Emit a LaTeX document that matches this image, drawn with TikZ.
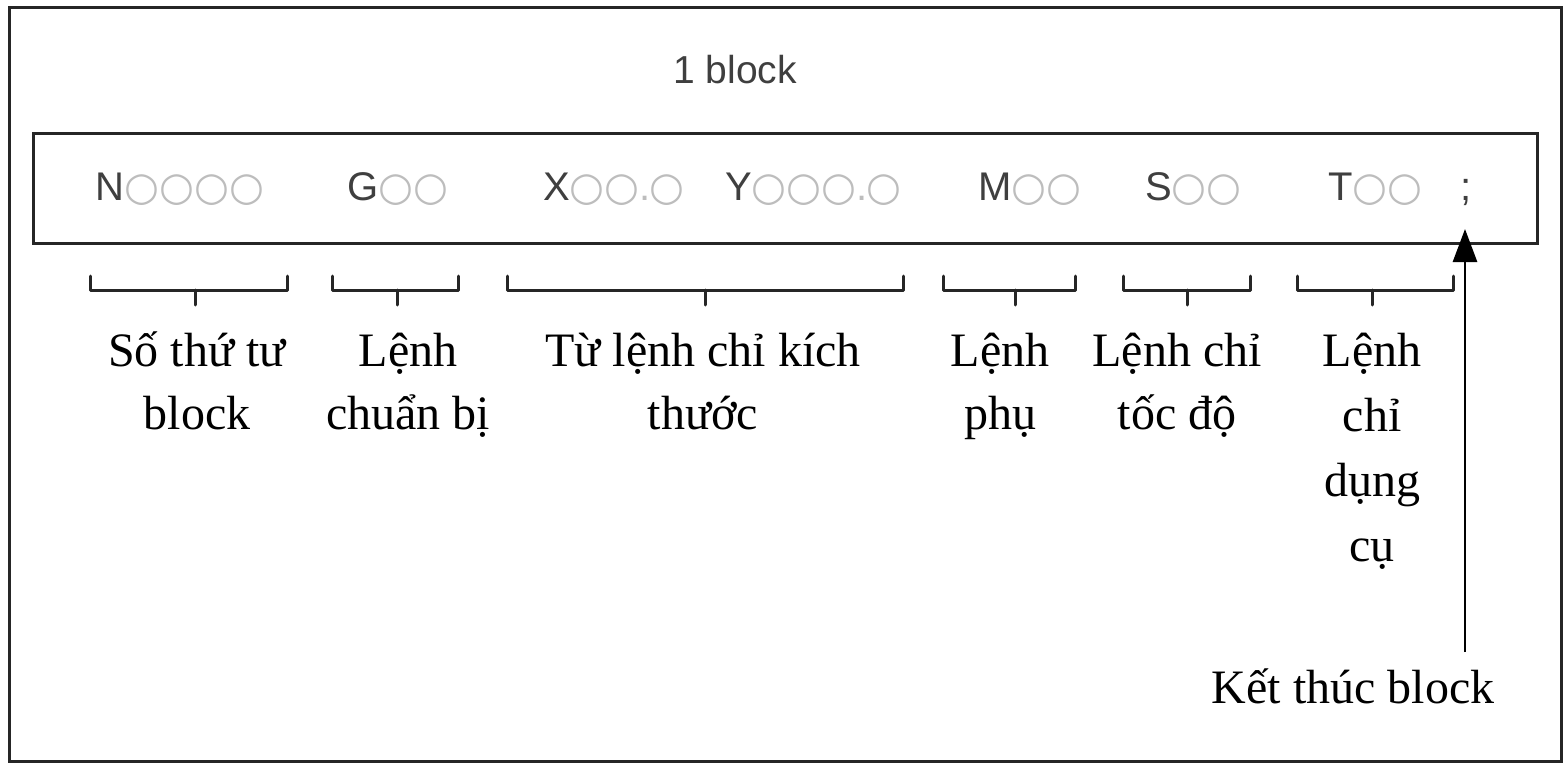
\documentclass[tikz,border=0pt]{standalone}
\usepackage{fontspec}
\setmainfont{Liberation Serif}
\newfontfamily\sansf{Liberation Sans}
\newfontfamily\symf{DejaVu Sans}
\usetikzlibrary{arrows.meta}
\definecolor{code}{HTML}{3F3F3F}
\definecolor{ghost}{HTML}{BDBDBD}
% an empty digit position, and the decimal point between positions
\newcommand\ph{\makebox[35pt]{\color{ghost}\symf ○}}
\newcommand\pd{\makebox[10pt]{\color{ghost}.}}
\begin{document}
\begin{tikzpicture}[x=1pt,y=-1pt,
  frame/.style={draw=black!85,line width=3pt},
  word/.style={anchor=base west,inner sep=0pt,text=code,font=\sansf\fontsize{40}{40}\selectfont},
  label/.style={anchor=base,inner sep=0pt,align=center,font=\fontsize{48}{63}\selectfont},
  brace/.style={draw=black!85,line width=3pt,line join=round,line cap=round}]
\useasboundingbox (0,0) rectangle (1564,763);
\fill[white] (0,0) rectangle (1564,763);
\draw[frame] (9,7) rectangle (1561,761);

% the block and its words
\node[frame,minimum width=1504pt,minimum height=110pt,inner sep=0pt] (blk) at (785,188) {};
\node[anchor=base,inner sep=0pt,text=code,font=\sansf\fontsize{39}{39}\selectfont] (title) at (735,83) {1 block};
\node[word] (wn) at (95,200) {N\ph\ph\ph\ph};
\node[word] (wg) at (347,200) {G\ph\ph};
\node[word] (wx) at (543,200) {X\ph\ph\pd\ph};
\node[word] (wy) at (725,200) {Y\ph\ph\ph\pd\ph};
\node[word] (wm) at (978,200) {M\ph\ph};
\node[word] (ws) at (1145,200) {S\ph\ph};
\node[word] (wt) at (1328,200) {T\ph\ph};
\node[word,anchor=base] (semi) at (1466,200) {;};

% brackets under the words
\foreach \a/\b/\c in {90/287/195, 332/458/397, 507/903/705, 943/1075/1015, 1123/1250/1187, 1297/1453/1372}{
  \draw[brace] (\a,276) |- (\b,290) -- (\b,276);
  \draw[brace] (\c,290) -- (\c,305);
}

% meanings (a node's base is the baseline of its last line)
\node[label] (s1) at (197,429) {Số thứ tư\\block};
\node[label] (s2) at (408,429) {Lệnh\\chuẩn bị};
\node[label] (s3) at (703,429) {Từ lệnh chỉ kích\\thước};
\node[label] (s4) at (1000,429) {Lệnh\\phụ};
\node[label] (s5) at (1177,429) {Lệnh chỉ\\tốc độ};
\node[label,font=\fontsize{48}{65}\selectfont] (s6) at (1372,561) {Lệnh\\chỉ\\dụng\\cụ};
\node[label] (kt) at (1353,703) {Kết thúc block};

\coordinate (tip) at (1465,229);
\coordinate (tail) at (1465,652);
\draw[line width=2.8pt,-{Triangle[length=33pt,width=24pt]}] (tail) -- (tip);
\end{tikzpicture}
\end{document}
